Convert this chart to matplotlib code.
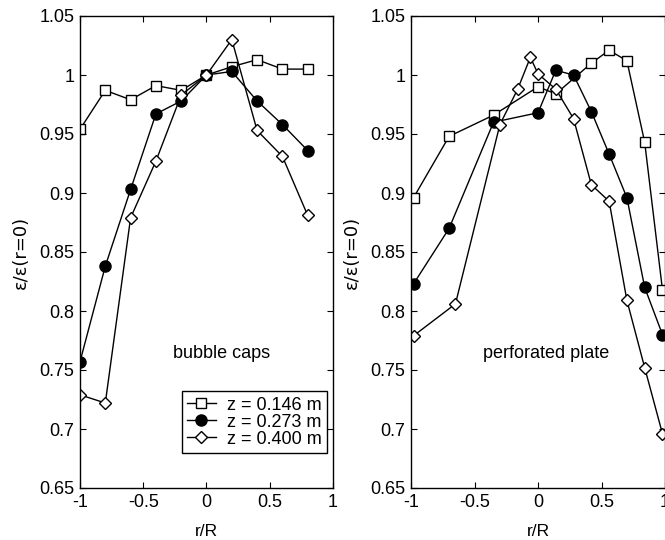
import matplotlib.pyplot as plt

plt.rcParams['font.family'] = ['Liberation Sans', 'DejaVu Sans']
plt.rcParams['font.size'] = 13

# bubble caps tray, r/R positions shared by all heights
bc_r = [-1.0, -0.8, -0.6, -0.4, -0.2, 0.0, 0.2, 0.4, 0.6, 0.8]
bc_z146 = [0.954, 0.987, 0.979, 0.991, 0.987, 1.000, 1.007, 1.013, 1.005, 1.005]
bc_z273 = [0.757, 0.838, 0.903, 0.967, 0.978, 1.000, 1.003, 0.978, 0.958, 0.936]
bc_z400 = [0.729, 0.722, 0.879, 0.927, 0.983, 1.000, 1.030, 0.953, 0.931, 0.881]

# perforated plate tray, each height measured at its own radii
pp_r146 = [-0.98, -0.70, -0.35, 0.0, 0.14, 0.42, 0.56, 0.70, 0.84, 0.98]
pp_z146 = [0.896, 0.948, 0.966, 0.990, 0.984, 1.010, 1.021, 1.012, 0.943, 0.818]
pp_r273 = [-0.98, -0.70, -0.35, 0.0, 0.14, 0.28, 0.42, 0.56, 0.70, 0.84, 0.98]
pp_z273 = [0.823, 0.870, 0.960, 0.968, 1.004, 1.000, 0.969, 0.933, 0.896, 0.820, 0.780]
pp_r400 = [-0.98, -0.65, -0.30, -0.16, -0.06, 0.0, 0.14, 0.28, 0.42, 0.56, 0.70, 0.84, 0.98]
pp_z400 = [0.779, 0.806, 0.958, 0.988, 1.015, 1.001, 0.988, 0.963, 0.907, 0.893, 0.809, 0.752, 0.696]

labels = ['z = 0.146 m', 'z = 0.273 m', 'z = 0.400 m']
xticks = [-1, -0.5, 0, 0.5, 1]
xticklabels = ['-1', '-0.5', '0', '0.5', '1']
yticks = [0.65, 0.7, 0.75, 0.8, 0.85, 0.9, 0.95, 1.0, 1.05]
yticklabels = ['0.65', '0.7', '0.75', '0.8', '0.85', '0.9', '0.95', '1', '1.05']

styles = [
    dict(marker='s', ms=6.5, mfc='white', mec='black'),
    dict(marker='o', ms=8, mfc='black', mec='black'),
    dict(marker='D', ms=6.5, mfc='white', mec='black'),
]

fig = plt.figure(figsize=(6.65, 5.4), dpi=100)
W, H = 665, 540
ax1 = fig.add_axes([80 / W, 1 - 488 / H, 253 / W, 472 / H])
ax2 = fig.add_axes([411 / W, 1 - 488 / H, 254 / W, 472 / H])


def style_axes(ax):
    ax.set_xlim(-1, 1)
    ax.set_ylim(0.65, 1.05)
    ax.set_xticks(xticks)
    ax.set_xticklabels(xticklabels)
    ax.set_yticks(yticks)
    ax.set_yticklabels(yticklabels)
    ax.tick_params(direction='in', top=True, right=True, length=4,
                   width=0.8, labelsize=13, pad=4)
    for s in ax.spines.values():
        s.set_linewidth(1.0)
    ax.set_xlabel('r/R', fontsize=12.5, labelpad=10)
    ax.set_ylabel('ε/ε(r=0)', fontsize=13, labelpad=7,
                  family=['DejaVu Sans'])


for y, st, lab in zip([bc_z146, bc_z273, bc_z400], styles, labels):
    ax1.plot(bc_r, y, color='black', lw=1.0, mew=1.0, label=lab, **st)
for x, y, st in zip([pp_r146, pp_r273, pp_r400],
                    [pp_z146, pp_z273, pp_z400], styles):
    ax2.plot(x, y, color='black', lw=1.0, mew=1.0, **st)

style_axes(ax1)
style_axes(ax2)

ax1.text(-0.265, 0.764, 'bubble caps', fontsize=13, va='center')
ax2.text(-0.43, 0.764, 'perforated plate', fontsize=13, va='center')

leg = ax1.legend(loc='lower right', bbox_to_anchor=(0.976, 0.074), fontsize=13,
                 handlelength=1.6, handletextpad=0.6, borderpad=0.3,
                 labelspacing=0.0, borderaxespad=0, fancybox=False,
                 framealpha=1)
leg.get_frame().set_edgecolor('black')
leg.get_frame().set_linewidth(1.0)

fig.savefig('out.png', dpi=100)
